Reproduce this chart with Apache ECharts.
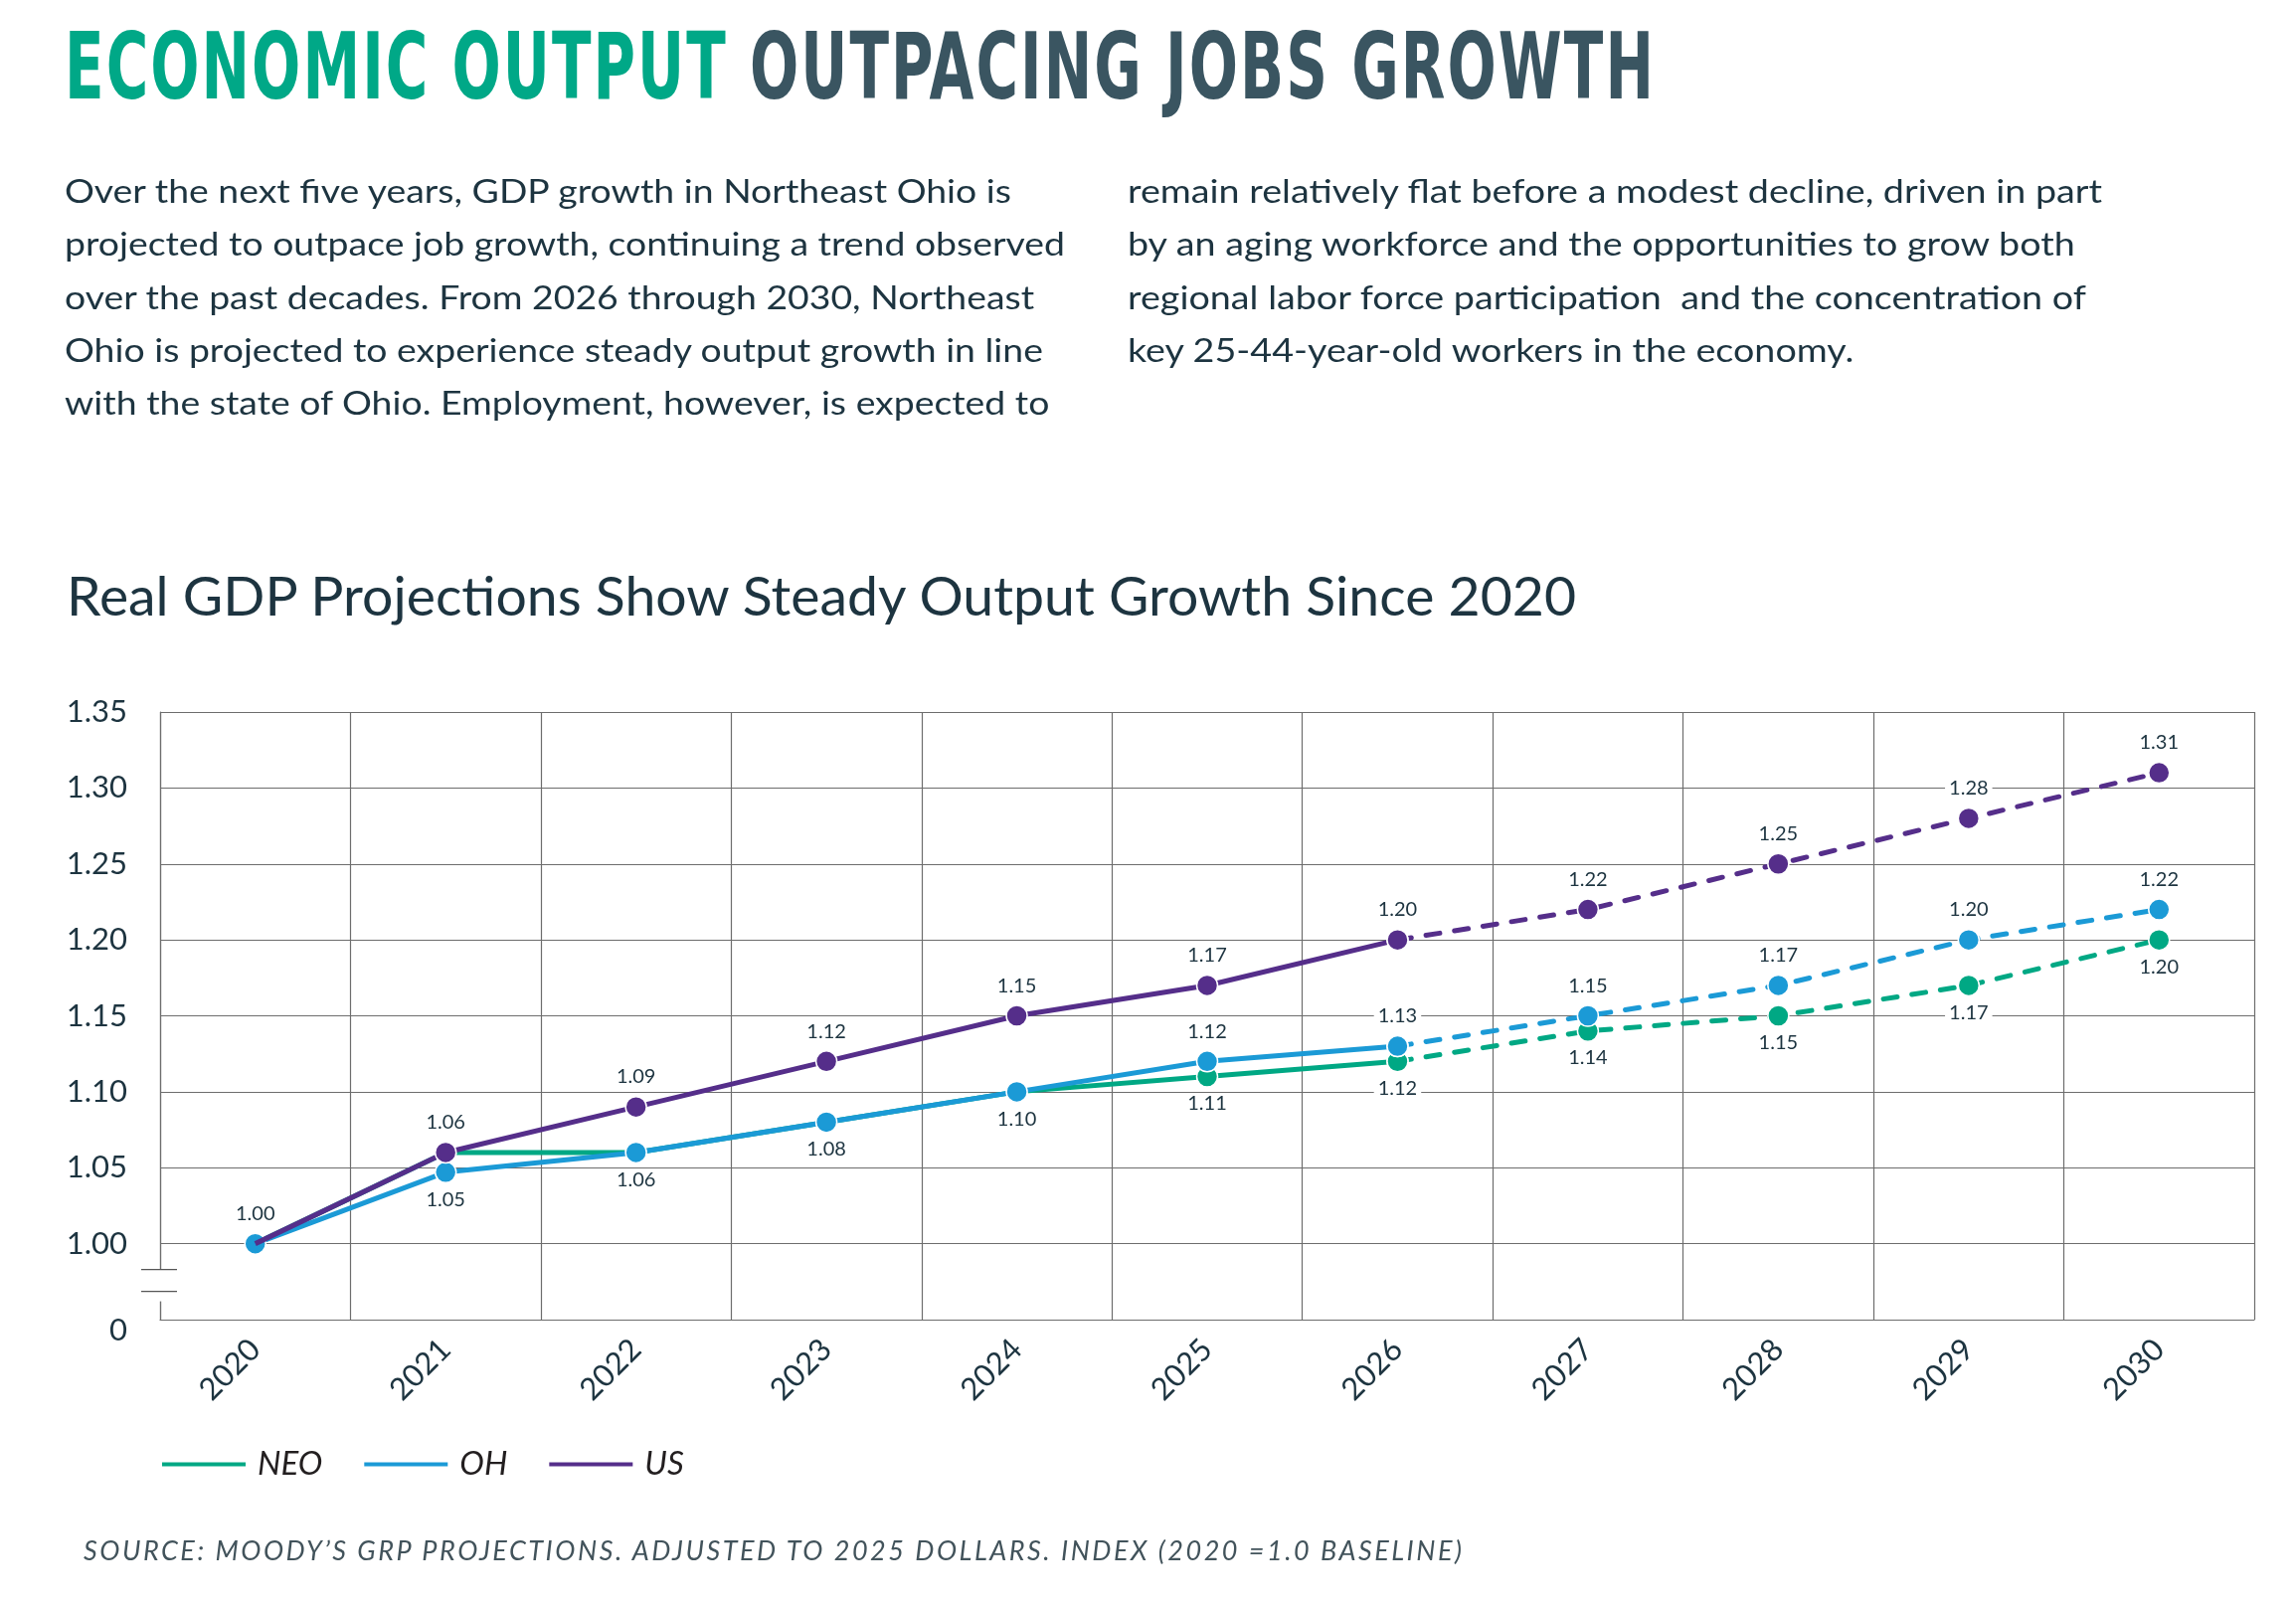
<!DOCTYPE html>
<html>
<head>
<meta charset="utf-8">
<title>Economic output outpacing jobs growth</title>
<script src="https://cdn.jsdelivr.net/npm/echarts@6/dist/echarts.min.js"></script>
<style>
    html, body { margin: 0; padding: 0; background: #fff; }
    body { width: 2309px; height: 1618px; position: relative; overflow: hidden; font-family: Lato, "Noto Sans", sans-serif; color: #1d3440; }
    #chart { position: absolute; left: 0; top: 0; width: 2309px; height: 1618px; }
    .txt { position: absolute; white-space: pre; transform-origin: 0 0; z-index: 2; }
    #headline { left: 65px; top: 21px; font-family: "DejaVu Sans Condensed", "Liberation Sans Narrow", "DejaVu Sans", sans-serif; font-stretch: condensed; font-weight: bold; font-size: 93px; line-height: 93px; letter-spacing: 3px; }
    #headline .a { color: #00a887; }
    #headline .b { color: #3a5561; }
    .para { top: 165px; font-size: 33px; line-height: 53.3px; }
    #p1 { left: 65px; }
    #p2 { left: 1134px; }
    #subtitle { left: 67px; top: 571px; font-size: 54.5px; line-height: 54.5px; }
    #source { left: 84px; top: 1545px; font-size: 27px; line-height: 27px; font-style: italic; color: #42535b; }
</style>
</head>
<body>
<div id="chart"></div>
<div id="headline" class="txt"><span class="a">ECONOMIC OUTPUT</span><span class="b"> OUTPACING JOBS GROWTH</span></div>
<div id="p1" class="txt para">Over the next five years, GDP growth in Northeast Ohio is
projected to outpace job growth, continuing a trend observed
over the past decades. From 2026 through 2030, Northeast
Ohio is projected to experience steady output growth in line
with the state of Ohio. Employment, however, is expected to</div>
<div id="p2" class="txt para">remain relatively flat before a modest decline, driven in part
by an aging workforce and the opportunities to grow both
regional labor force participation  and the concentration of
key 25-44-year-old workers in the economy.</div>
<div id="subtitle" class="txt">Real GDP Projections Show Steady Output Growth Since 2020</div>
<div id="source" class="txt">SOURCE: MOODY’S GRP PROJECTIONS. ADJUSTED TO 2025 DOLLARS. INDEX (2020 =1.0 BASELINE)</div>
<script>
    // 数据
    var years = ['2020', '2021', '2022', '2023', '2024', '2025', '2026', '2027', '2028', '2029', '2030'];
    var neoValues = [1.00, 1.06, 1.06, 1.08, 1.10, 1.11, 1.12, 1.14, 1.15, 1.17, 1.20];
    var ohValues = [1.00, 1.047, 1.06, 1.08, 1.10, 1.12, 1.13, 1.15, 1.17, 1.20, 1.22];
    var usValues = [1.00, 1.06, 1.09, 1.12, 1.15, 1.17, 1.20, 1.22, 1.25, 1.28, 1.31];
    var yMin = 0.95, yMax = 1.35, yStep = 0.05; // 0.95 刻度显示为 "0"（断轴）
    var projStart = 6; // 2026 起为预测（虚线）

    var inkColor = '#1d3440';
    var gridColor = '#6d6d6d';

    // 简易 extend
    var $ = { extend: function(a, b, c) { [b, c].forEach(function(o) { for (var k in o) a[k] = o[k]; }); return a; } };

    // 文本宽度适配
    function fitWidth(id, target) {
        var el = document.getElementById(id);
        el.style.transform = 'none';
        var w = el.getBoundingClientRect().width;
        el.style.transform = 'scaleX(' + (target / w) + ')';
    }
    function fitSpacing(id, target) {
        var el = document.getElementById(id);
        el.style.letterSpacing = '0px';
        var w = el.getBoundingClientRect().width;
        var n = el.textContent.length - 1;
        el.style.letterSpacing = ((target - w) / n) + 'px';
    }

    function makeLabel(pos) {
        return {
            show: true,
            position: pos,
            distance: pos === 'top' ? 9 : 6,
            fontSize: 20,
            fontFamily: 'Lato',
            color: inkColor,
            backgroundColor: '#fff',
            padding: [0, 4],
            formatter: function(p) {
                return Number(p.value).toFixed(2);
            }
        };
    }

    function buildSeries(name, color, values, labelRule, z, hideFirst) {
        var common = {
            name: name,
            type: 'line',
            symbol: 'circle',
            symbolSize: 21,
            z: z,
            itemStyle: { color: color, borderColor: '#fff', borderWidth: 1.5 },
            emphasis: { disabled: true },
            animation: false
        };
        var solidData = values.map(function(v, i) {
            if (i > projStart) return '-';
            var pos = labelRule(i);
            var item = { value: v, label: pos ? makeLabel(pos) : { show: false } };
            if (i === 0 && hideFirst) item.symbol = 'none';
            return item;
        });
        var dashData = values.map(function(v, i) {
            if (i < projStart) return '-';
            var pos = i === projStart ? null : labelRule(i);
            return { value: v, label: pos ? makeLabel(pos) : { show: false } };
        });
        return [
            $.extend({}, common, { data: solidData, lineStyle: { color: color, width: 5 } }),
            $.extend({}, common, { data: dashData, lineStyle: { color: color, width: 5, type: [14, 15], cap: 'round' } })
        ];
    }

    var series = [].concat(
        buildSeries('NEO', '#00a884', neoValues, function(i) { return i >= 5 ? 'bottom' : null; }, 2, true),
        buildSeries('OH', '#1b9ad6', ohValues, function(i) { return (i >= 1 && i <= 4) ? 'bottom' : 'top'; }, 3, false),
        buildSeries('US', '#552e8a', usValues, function(i) { return i >= 1 ? 'top' : null; }, 4, true)
    );

    var chart = echarts.init(document.getElementById('chart'));
    var option = {
        backgroundColor: 'transparent',
        textStyle: { fontFamily: 'Lato' },
        animation: false,
        grid: { left: 161, right: 42, top: 716, bottom: 291, containLabel: false },
        legend: {
            data: ['NEO', 'OH', 'US'],
            left: 161,
            top: 1456,
            padding: 0,
            icon: 'rect',
            itemWidth: 86,
            itemHeight: 6,
            itemGap: 40,
            selectedMode: false,
            textStyle: { fontFamily: 'Lato', fontStyle: 'italic', fontSize: 33, color: '#231f20', padding: [0, 0, 0, 6] }
        },
        xAxis: {
            type: 'category',
            data: years,
            boundaryGap: true,
            axisLine: { lineStyle: { color: gridColor, width: 1.2 } },
            axisTick: { show: false },
            splitLine: { show: true, interval: 0, lineStyle: { color: gridColor, width: 1.2 } },
            axisLabel: { interval: 0, rotate: 45, margin: 25, fontSize: 31, color: inkColor }
        },
        yAxis: {
            type: 'value',
            min: yMin,
            max: yMax,
            interval: yStep,
            axisLine: { show: true, lineStyle: { color: gridColor, width: 1.2 } },
            axisTick: { show: false },
            splitLine: { show: true, lineStyle: { color: gridColor, width: 1.2 } },
            axisLabel: {
                margin: 33,
                fontSize: 31,
                color: inkColor,
                formatter: function(v) {
                    if (Math.abs(v - yMin) < 1e-6) return '{z|0}';
                    return v.toFixed(2);
                },
                rich: { z: { fontSize: 31, color: inkColor, padding: [22, 0, 0, 0] } }
            }
        },
        series: series
    };
    chart.setOption(option);

    // 断轴标记
    var yb1 = chart.convertToPixel({ yAxisIndex: 0 }, 0.983);
    var yb2 = chart.convertToPixel({ yAxisIndex: 0 }, 0.9686);
    var axisX = option.grid.left;
    chart.setOption({
        graphic: [
            { type: 'rect', z: 100, shape: { x: axisX - 3, y: yb1, width: 6, height: yb2 - yb1 + 10 }, style: { fill: '#fff' } },
            { type: 'line', z: 101, shape: { x1: axisX - 19, y1: yb1, x2: axisX + 17, y2: yb1 }, style: { stroke: '#555', lineWidth: 1.3 } },
            { type: 'line', z: 101, shape: { x1: axisX - 19, y1: yb2, x2: axisX + 17, y2: yb2 }, style: { stroke: '#555', lineWidth: 1.3 } }
        ]
    });

    function layoutText() {
        fitWidth('headline', 1600);
        fitWidth('p1', 1006);
        fitWidth('p2', 980);
        fitWidth('subtitle', 1518);
        fitSpacing('source', 1386);
    }
    layoutText();
    if (document.fonts && document.fonts.ready) {
        document.fonts.ready.then(layoutText);
    }
</script>
</body>
</html>
